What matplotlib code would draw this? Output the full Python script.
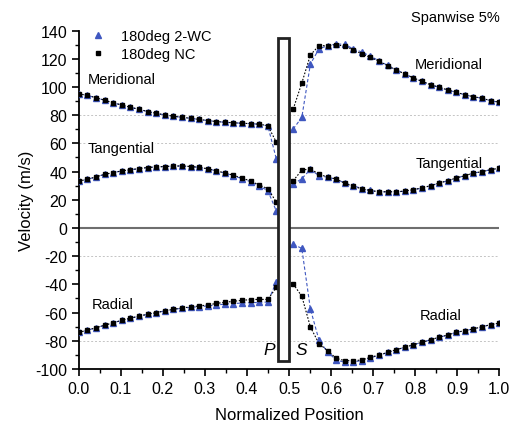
import numpy as np
import matplotlib

matplotlib.use("Agg")
import matplotlib.pyplot as plt
from matplotlib.patches import Rectangle

plt.rcParams["font.family"] = ["Liberation Sans", "DejaVu Sans"]
plt.rcParams["axes.unicode_minus"] = False

# pressure side / suction side sample positions
X_PS = np.linspace(0.0, 0.47, 24)
X_SS = np.linspace(0.51, 1.0, 25)

# 180deg NC
MER_PS_NC = [95.2, 94.0, 92.4, 90.6, 88.8, 87.2, 85.6, 84.2, 82.6, 81.3, 80.2, 79.3,
             78.5, 77.8, 77.0, 76.2, 75.5, 75.0, 74.6, 74.3, 74.0, 73.6, 72.6, 60.7]
TAN_PS_NC = [33.3, 34.5, 36.3, 38.0, 39.3, 40.5, 41.3, 42.1, 42.9, 43.3, 43.6, 43.9,
             44.0, 43.6, 43.0, 42.0, 40.5, 39.0, 37.4, 35.4, 33.3, 30.5, 27.9, 18.3]
RAD_PS_NC = [-74.0, -72.5, -70.7, -69.0, -67.2, -65.5, -64.0, -62.5, -61.2, -60.0, -58.8, -57.7,
             -56.7, -56.0, -55.3, -54.6, -53.5, -52.7, -52.0, -51.3, -50.8, -50.6, -50.7, -42.0]
MER_SS_NC = [84.4, 102.8, 122.7, 129.3, 129.3, 130.0, 128.9, 126.5, 123.4, 121.0, 118.2, 115.1, 112.1,
             109.2, 106.4, 104.0, 101.6, 99.8, 97.9, 96.2, 94.5, 93.1, 92.0, 90.3, 89.2]
TAN_SS_NC = [33.5, 41.1, 41.8, 38.3, 36.0, 34.8, 31.7, 29.6, 27.7, 26.5, 25.7, 25.7, 25.7,
             26.2, 27.2, 28.4, 30.0, 31.9, 33.5, 35.5, 37.1, 39.0, 39.9, 41.4, 42.3]
RAD_SS_NC = [-39.7, -48.4, -70.2, -82.0, -87.0, -92.4, -94.1, -94.1, -93.6, -91.7, -90.1, -88.2, -86.3,
             -84.6, -82.8, -81.1, -79.2, -77.5, -75.9, -74.0, -72.8, -71.6, -70.0, -68.6, -67.4]

# 180deg 2-WC
MER_PS_WC = [95.2, 94.0, 92.4, 90.6, 88.8, 87.2, 85.6, 84.2, 82.6, 81.3, 80.2, 79.3,
             78.5, 77.8, 77.0, 76.2, 75.5, 75.0, 74.6, 74.3, 74.0, 73.6, 72.4, 48.8]
TAN_PS_WC = [33.3, 34.5, 36.3, 38.0, 39.3, 40.5, 41.3, 42.1, 42.9, 43.3, 43.6, 43.9,
             44.0, 43.6, 43.0, 42.0, 40.5, 39.0, 37.0, 35.0, 32.8, 29.8, 26.5, 11.9]
RAD_PS_WC = [-74.0, -72.5, -70.7, -69.0, -67.2, -65.5, -64.0, -62.5, -61.2, -60.0, -58.8, -57.7,
             -56.9, -56.3, -55.8, -55.3, -54.6, -54.0, -53.6, -53.2, -53.0, -52.8, -52.5, -38.0]
MER_SS_WC = [70.2, 78.5, 116.3, 127.0, 129.3, 130.5, 130.3, 127.0, 124.8, 121.8, 118.6, 115.3, 112.3,
             109.3, 106.5, 104.0, 101.6, 99.8, 97.9, 96.2, 94.5, 93.1, 92.0, 90.3, 89.2]
TAN_SS_WC = [31.0, 35.0, 41.5, 37.1, 36.0, 34.6, 32.0, 30.0, 28.0, 26.6, 25.7, 25.6, 25.6,
             26.1, 27.1, 28.4, 30.0, 31.9, 33.5, 35.5, 37.1, 39.0, 39.9, 41.4, 42.3]
RAD_SS_WC = [-11.5, -14.5, -57.4, -79.5, -88.0, -93.5, -95.3, -95.0, -94.0, -92.0, -90.3, -88.3, -86.4,
             -84.6, -82.8, -81.1, -79.2, -77.5, -75.9, -74.0, -72.8, -71.6, -70.0, -68.6, -67.4]

BLUE = "#3F57C0"

fig = plt.figure(figsize=(5.12, 4.27), dpi=100)
ax = fig.add_axes([0.154, 0.1335, 0.821, 0.7925])

for yv in (80, 60, -20, -80):
    ax.axhline(yv, color="#C4C4C4", linestyle=(0, (2, 2)), linewidth=0.7, zorder=0)
ax.axhline(0, color="#6E6E6E", linewidth=1.5, zorder=1)

for xs, wc, nc in [
    (X_PS, MER_PS_WC, MER_PS_NC), (X_PS, TAN_PS_WC, TAN_PS_NC), (X_PS, RAD_PS_WC, RAD_PS_NC),
    (X_SS, MER_SS_WC, MER_SS_NC), (X_SS, TAN_SS_WC, TAN_SS_NC), (X_SS, RAD_SS_WC, RAD_SS_NC),
]:
    ax.plot(xs, wc, color=BLUE, linestyle=(0, (3, 2)), linewidth=0.8,
            marker="^", markersize=4, zorder=3)
    ax.plot(xs, nc, color="black", linestyle=(0, (1.5, 1.5)), linewidth=0.8,
            marker="s", markersize=3.2, zorder=4)

# legend handles (markers only)
ax.plot([], [], linestyle="none", marker="^", markersize=4, color=BLUE, label="180deg 2-WC")
ax.plot([], [], linestyle="none", marker="s", markersize=3.2, color="black", label="180deg NC")
ax.legend(loc="upper left", bbox_to_anchor=(0.0, 1.035), frameon=False, fontsize=10.5,
          handlelength=1.2, handletextpad=1.0, borderaxespad=0.3, labelspacing=0.25)

# blade
ax.add_patch(Rectangle((0.474, -94), 0.026, 229, facecolor="white", edgecolor="#222222",
                       linewidth=2.0, zorder=6))
ax.text(0.452, -86, "P", fontsize=12.5, style="italic", ha="center", va="center", zorder=7)
ax.text(0.530, -86, "S", fontsize=12.5, style="italic", ha="center", va="center", zorder=7)

box = dict(facecolor="white", edgecolor="none", pad=0.5)
ax.text(0.02, 106, "Meridional", fontsize=10.5, va="center", bbox=box, zorder=2)
ax.text(0.02, 57, "Tangential", fontsize=10.5, va="center", bbox=box, zorder=2)
ax.text(0.03, -54, "Radial", fontsize=10.5, va="center", bbox=box, zorder=2)
ax.text(0.80, 116, "Meridional", fontsize=10.5, va="center", bbox=box, zorder=2)
ax.text(0.80, 46, "Tangential", fontsize=10.5, va="center", bbox=box, zorder=2)
ax.text(0.81, -62, "Radial", fontsize=10.5, va="center", bbox=box, zorder=2)

fig.text(0.977, 0.958, "Spanwise 5%", fontsize=10.5, ha="right", va="center")

ax.set_xlim(0, 1.0)
ax.set_ylim(-100, 140)
ax.set_xticks(np.arange(0, 1.01, 0.1))
ax.set_xticks(np.arange(0, 1.01, 0.05), minor=True)
ax.set_yticks(np.arange(-100, 141, 20))
ax.set_yticks(np.arange(-100, 141, 10), minor=True)
ax.xaxis.set_major_formatter(matplotlib.ticker.FormatStrFormatter("%.1f"))
ax.tick_params(which="major", direction="out", length=5, width=1.2, labelsize=11.5)
ax.tick_params(which="minor", direction="out", length=3, width=1.0)
ax.spines["top"].set_visible(False)
ax.spines["right"].set_visible(False)
ax.spines["left"].set_linewidth(1.3)
ax.spines["bottom"].set_linewidth(1.3)
ax.set_xlabel("Normalized Position", fontsize=12, labelpad=8)
ax.set_ylabel("Velocity (m/s)", fontsize=12, labelpad=1)

fig.savefig("out.png", dpi=100)
